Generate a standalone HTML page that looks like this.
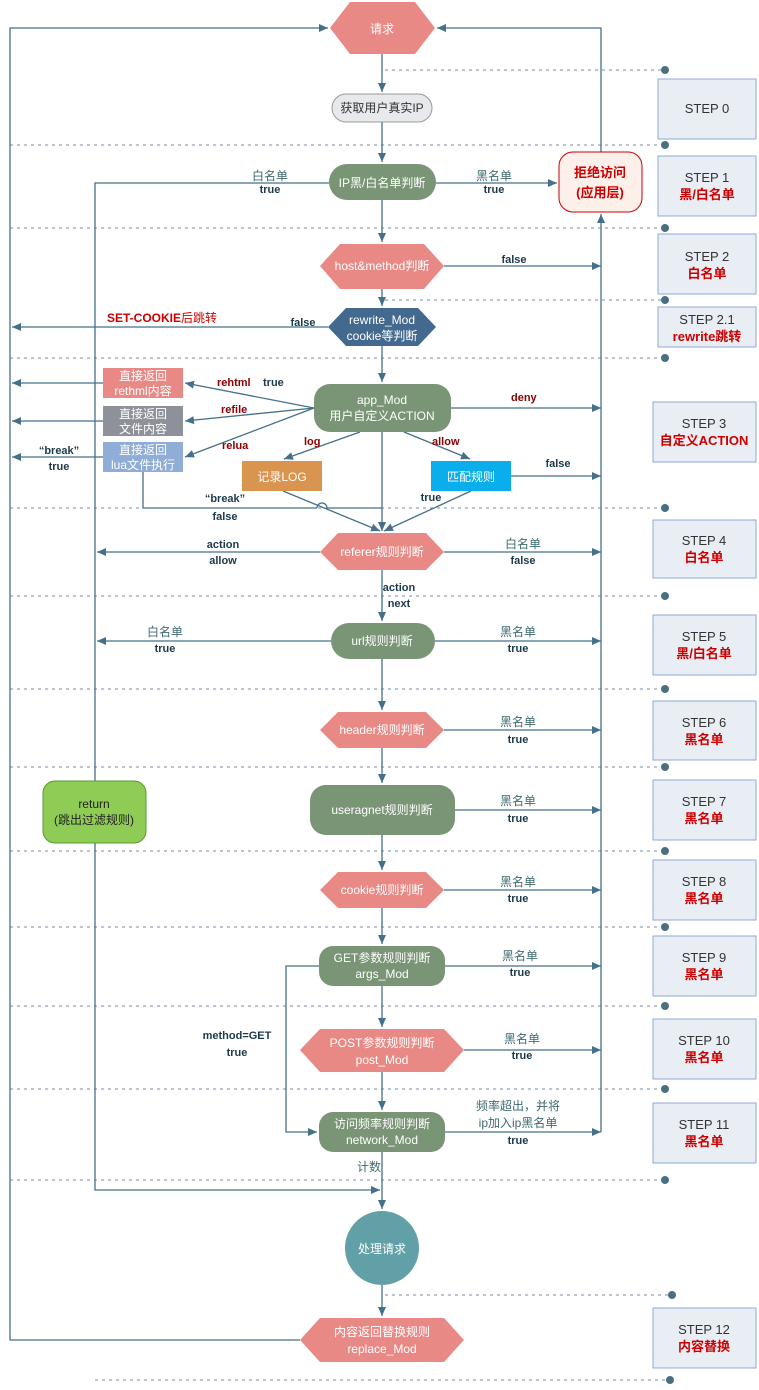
<!DOCTYPE html>
<html><head><meta charset="utf-8"><style>
html,body{margin:0;padding:0;background:#fff}
svg{display:block}
text{font-family:"Liberation Sans","Noto Sans CJK SC",sans-serif;font-size:12px}
.w{fill:#fff}
.lb{fill:#1d3a4a;font-weight:bold;font-size:11px}
.cn{fill:#3e6a70;font-size:12px}
.rd{fill:#8b0000;font-weight:bold;font-size:11px}
.st{fill:#333;font-size:13px}
.sr{fill:#c00;font-weight:bold;font-size:13px}
</style></head><body>
<svg width="759" height="1390" viewBox="0 0 759 1390" xmlns="http://www.w3.org/2000/svg">
<defs>
<marker id="a" markerWidth="10" markerHeight="10" refX="9" refY="5" orient="auto" markerUnits="userSpaceOnUse"><path d="M0,1 L9,5 L0,9 Z" fill="#45708a"/></marker>
</defs>
<g stroke="#7a8ea0" stroke-dasharray="3,4" stroke-width="1">
<line x1="385" y1="70" x2="665" y2="70"/>
<line x1="10" y1="145" x2="665" y2="145"/>
<line x1="10" y1="228" x2="665" y2="228"/>
<line x1="385" y1="300" x2="665" y2="300"/>
<line x1="10" y1="358" x2="665" y2="358"/>
<line x1="10" y1="508" x2="665" y2="508"/>
<line x1="10" y1="596" x2="665" y2="596"/>
<line x1="10" y1="689" x2="665" y2="689"/>
<line x1="10" y1="767" x2="665" y2="767"/>
<line x1="10" y1="851" x2="665" y2="851"/>
<line x1="10" y1="927" x2="665" y2="927"/>
<line x1="10" y1="1006" x2="665" y2="1006"/>
<line x1="10" y1="1089" x2="665" y2="1089"/>
<line x1="10" y1="1180" x2="665" y2="1180"/>
<line x1="385" y1="1295" x2="672" y2="1295"/>
<line x1="95" y1="1380" x2="670" y2="1380"/>
</g>
<g fill="#4a7080">
<circle cx="665" cy="70" r="4"/><circle cx="665" cy="145" r="4"/><circle cx="665" cy="228" r="4"/><circle cx="665" cy="300" r="4"/><circle cx="665" cy="358" r="4"/><circle cx="665" cy="508" r="4"/><circle cx="665" cy="596" r="4"/><circle cx="665" cy="689" r="4"/><circle cx="665" cy="767" r="4"/><circle cx="665" cy="851" r="4"/><circle cx="665" cy="927" r="4"/><circle cx="665" cy="1006" r="4"/><circle cx="665" cy="1089" r="4"/><circle cx="665" cy="1180" r="4"/><circle cx="672" cy="1295" r="4"/><circle cx="670" cy="1380" r="4"/>
</g>
<g stroke="#45708a" stroke-width="1.3" fill="none">
<polyline points="300,1340 10,1340 10,28 328,28" marker-end="url(#a)"/>
<polyline points="601,152 601,28 437,28" marker-end="url(#a)"/>
<line x1="601" y1="1132" x2="601" y2="214" marker-end="url(#a)"/>
<polyline points="329,183 95,183 95,1190 380,1190" marker-end="url(#a)"/>
<line x1="382" y1="54" x2="382" y2="92" marker-end="url(#a)"/>
<line x1="382" y1="122" x2="382" y2="162" marker-end="url(#a)"/>
<line x1="382" y1="200" x2="382" y2="242" marker-end="url(#a)"/>
<line x1="382" y1="289" x2="382" y2="306" marker-end="url(#a)"/>
<line x1="382" y1="346" x2="382" y2="382" marker-end="url(#a)"/>
<line x1="382" y1="432" x2="382" y2="531" marker-end="url(#a)"/>
<line x1="382" y1="570" x2="382" y2="621" marker-end="url(#a)"/>
<line x1="382" y1="659" x2="382" y2="710" marker-end="url(#a)"/>
<line x1="382" y1="748" x2="382" y2="783" marker-end="url(#a)"/>
<line x1="382" y1="835" x2="382" y2="870" marker-end="url(#a)"/>
<line x1="382" y1="908" x2="382" y2="944" marker-end="url(#a)"/>
<line x1="382" y1="986" x2="382" y2="1027" marker-end="url(#a)"/>
<line x1="382" y1="1072" x2="382" y2="1110" marker-end="url(#a)"/>
<line x1="382" y1="1152" x2="382" y2="1209" marker-end="url(#a)"/>
<line x1="382" y1="1285" x2="382" y2="1316" marker-end="url(#a)"/>
<line x1="436" y1="183" x2="557" y2="183" marker-end="url(#a)"/>
<line x1="444" y1="266" x2="601" y2="266" marker-end="url(#a)"/>
<line x1="328" y1="327" x2="12" y2="327" marker-end="url(#a)"/>
<line x1="103" y1="383" x2="12" y2="383" marker-end="url(#a)"/>
<line x1="103" y1="421" x2="12" y2="421" marker-end="url(#a)"/>
<line x1="103" y1="457" x2="12" y2="457" marker-end="url(#a)"/>
<line x1="314" y1="408" x2="185" y2="383" marker-end="url(#a)"/>
<line x1="314" y1="408" x2="185" y2="421" marker-end="url(#a)"/>
<line x1="314" y1="408" x2="185" y2="457" marker-end="url(#a)"/>
<line x1="451" y1="408" x2="601" y2="408" marker-end="url(#a)"/>
<line x1="360" y1="432" x2="284" y2="459" marker-end="url(#a)"/>
<line x1="404" y1="432" x2="470" y2="459" marker-end="url(#a)"/>
<line x1="511" y1="476" x2="601" y2="476" marker-end="url(#a)"/>
<polyline points="143,472 143,508 317,508"/>
<path d="M317,508 A5,5 0 0 1 327,508"/>
<line x1="327" y1="508" x2="382" y2="508"/>
<line x1="283" y1="491" x2="380" y2="531" marker-end="url(#a)"/>
<line x1="471" y1="491" x2="384" y2="531" marker-end="url(#a)"/>
<line x1="320" y1="552" x2="97" y2="552" marker-end="url(#a)"/>
<line x1="444" y1="552" x2="601" y2="552" marker-end="url(#a)"/>
<line x1="331" y1="641" x2="97" y2="641" marker-end="url(#a)"/>
<line x1="435" y1="641" x2="601" y2="641" marker-end="url(#a)"/>
<line x1="444" y1="730" x2="601" y2="730" marker-end="url(#a)"/>
<line x1="455" y1="810" x2="601" y2="810" marker-end="url(#a)"/>
<line x1="444" y1="890" x2="601" y2="890" marker-end="url(#a)"/>
<line x1="445" y1="966" x2="601" y2="966" marker-end="url(#a)"/>
<line x1="464" y1="1050" x2="601" y2="1050" marker-end="url(#a)"/>
<line x1="445" y1="1132" x2="601" y2="1132" marker-end="url(#a)"/>
<polyline points="319,966 286,966 286,1132 317,1132" marker-end="url(#a)"/>
</g>
<!-- nodes -->
<polygon points="330,28 350,2 415,2 435,28 415,54 350,54" fill="#e98985"/>
<text x="382" y="33" text-anchor="middle" class="w">请求</text>
<rect x="332" y="94" width="100" height="28" rx="14" fill="#e8e9ec" stroke="#999"/>
<text x="382" y="112" text-anchor="middle" fill="#333">获取用户真实IP</text>
<rect x="329" y="164" width="107" height="36" rx="18" fill="#7a9576"/>
<text x="382" y="187" text-anchor="middle" class="w">IP黑/白名单判断</text>
<rect x="559" y="152" width="83" height="60" rx="14" fill="#fdf0eb" stroke="#c00"/>
<text x="600" y="177" text-anchor="middle" class="sr">拒绝访问</text>
<text x="600" y="197" text-anchor="middle" class="sr">(应用层)</text>
<polygon points="320,266 340,244 424,244 444,266 424,289 340,289" fill="#e98985"/>
<text x="382" y="270" text-anchor="middle" class="w">host&amp;method判断</text>
<polygon points="328,327 346,308 418,308 436,327 418,346 346,346" fill="#44698f"/>
<text x="382" y="324" text-anchor="middle" class="w">rewrite_Mod</text>
<text x="382" y="340" text-anchor="middle" class="w">cookie等判断</text>
<rect x="314" y="384" width="137" height="48" rx="16" fill="#7a9576"/>
<text x="382" y="404" text-anchor="middle" class="w">app_Mod</text>
<text x="382" y="420" text-anchor="middle" class="w">用户自定义ACTION</text>
<rect x="103" y="368" width="80" height="30" fill="#e98985"/>
<text x="143" y="380" text-anchor="middle" class="w">直接返回</text>
<text x="143" y="395" text-anchor="middle" class="w">rethml内容</text>
<rect x="103" y="406" width="80" height="30" fill="#8e9199"/>
<text x="143" y="418" text-anchor="middle" class="w">直接返回</text>
<text x="143" y="433" text-anchor="middle" class="w">文件内容</text>
<rect x="103" y="442" width="80" height="30" fill="#8fadd6"/>
<text x="143" y="454" text-anchor="middle" class="w">直接返回</text>
<text x="143" y="469" text-anchor="middle" class="w">lua文件执行</text>
<rect x="242" y="461" width="80" height="30" fill="#d9944f"/>
<text x="282" y="481" text-anchor="middle" class="w">记录LOG</text>
<rect x="431" y="461" width="80" height="30" fill="#0aaeea"/>
<text x="471" y="481" text-anchor="middle" class="w">匹配规则</text>
<polygon points="320,552 338,533 426,533 444,552 426,570 338,570" fill="#e98985"/>
<text x="382" y="556" text-anchor="middle" class="w">referer规则判断</text>
<rect x="331" y="623" width="104" height="36" rx="18" fill="#7a9576"/>
<text x="382" y="645" text-anchor="middle" class="w">url规则判断</text>
<polygon points="320,730 338,712 426,712 444,730 426,748 338,748" fill="#e98985"/>
<text x="382" y="734" text-anchor="middle" class="w">header规则判断</text>
<rect x="310" y="785" width="145" height="50" rx="16" fill="#7a9576"/>
<text x="382" y="814" text-anchor="middle" class="w">useragnet规则判断</text>
<rect x="43" y="781" width="103" height="62" rx="12" fill="#8ecc55" stroke="#5a9a30"/>
<text x="94" y="808" text-anchor="middle" fill="#222">return</text>
<text x="94" y="824" text-anchor="middle" fill="#222">(跳出过滤规则)</text>
<polygon points="320,890 338,872 426,872 444,890 426,908 338,908" fill="#e98985"/>
<text x="382" y="894" text-anchor="middle" class="w">cookie规则判断</text>
<rect x="319" y="946" width="126" height="40" rx="14" fill="#7a9576"/>
<text x="382" y="962" text-anchor="middle" class="w">GET参数规则判断</text>
<text x="382" y="978" text-anchor="middle" class="w">args_Mod</text>
<polygon points="300,1050 320,1029 444,1029 464,1050 444,1072 320,1072" fill="#e98985"/>
<text x="382" y="1047" text-anchor="middle" class="w">POST参数规则判断</text>
<text x="382" y="1064" text-anchor="middle" class="w">post_Mod</text>
<rect x="319" y="1112" width="126" height="40" rx="14" fill="#7a9576"/>
<text x="382" y="1128" text-anchor="middle" class="w">访问频率规则判断</text>
<text x="382" y="1144" text-anchor="middle" class="w">network_Mod</text>
<circle cx="382" cy="1248" r="37" fill="#62a0a8"/>
<text x="382" y="1253" text-anchor="middle" class="w">处理请求</text>
<polygon points="300,1340 320,1318 444,1318 464,1340 444,1362 320,1362" fill="#e98985"/>
<text x="382" y="1336" text-anchor="middle" class="w">内容返回替换规则</text>
<text x="382" y="1353" text-anchor="middle" class="w">replace_Mod</text>
<!-- labels -->
<text x="270" y="180" text-anchor="middle" class="cn">白名单</text>
<text x="270" y="193" text-anchor="middle" class="lb">true</text>
<text x="494" y="180" text-anchor="middle" class="cn">黑名单</text>
<text x="494" y="193" text-anchor="middle" class="lb">true</text>
<text x="514" y="263" text-anchor="middle" class="lb">false</text>
<text x="107" y="322" fill="#c00" font-weight="bold" font-size="12">SET-COOKIE<tspan font-weight="normal">后跳转</tspan></text>
<text x="303" y="326" text-anchor="middle" class="lb">false</text>
<text x="217" y="386" class="rd">rehtml</text><text x="263" y="386" class="lb">true</text>
<text x="221" y="413" class="rd">refile</text>
<text x="222" y="449" class="rd">relua</text>
<text x="304" y="445" class="rd">log</text>
<text x="432" y="445" class="rd">allow</text>
<text x="511" y="401" class="rd">deny</text>
<text x="558" y="467" text-anchor="middle" class="lb">false</text>
<text x="431" y="501" text-anchor="middle" class="lb">true</text>
<text x="59" y="454" text-anchor="middle" class="lb">“break”</text>
<text x="59" y="470" text-anchor="middle" class="lb">true</text>
<text x="225" y="502" text-anchor="middle" class="lb">“break”</text>
<text x="225" y="520" text-anchor="middle" class="lb">false</text>
<text x="223" y="548" text-anchor="middle" class="lb">action</text>
<text x="223" y="564" text-anchor="middle" class="lb">allow</text>
<text x="523" y="548" text-anchor="middle" class="cn">白名单</text>
<text x="523" y="564" text-anchor="middle" class="lb">false</text>
<text x="399" y="591" text-anchor="middle" class="lb">action</text>
<text x="399" y="607" text-anchor="middle" class="lb">next</text>
<text x="165" y="636" text-anchor="middle" class="cn">白名单</text>
<text x="165" y="652" text-anchor="middle" class="lb">true</text>
<g>
<text x="518" y="636" text-anchor="middle" class="cn">黑名单</text><text x="518" y="652" text-anchor="middle" class="lb">true</text>
<text x="518" y="726" text-anchor="middle" class="cn">黑名单</text><text x="518" y="743" text-anchor="middle" class="lb">true</text>
<text x="518" y="805" text-anchor="middle" class="cn">黑名单</text><text x="518" y="822" text-anchor="middle" class="lb">true</text>
<text x="518" y="886" text-anchor="middle" class="cn">黑名单</text><text x="518" y="902" text-anchor="middle" class="lb">true</text>
<text x="520" y="960" text-anchor="middle" class="cn">黑名单</text><text x="520" y="976" text-anchor="middle" class="lb">true</text>
<text x="522" y="1043" text-anchor="middle" class="cn">黑名单</text><text x="522" y="1059" text-anchor="middle" class="lb">true</text>
</g>
<text x="518" y="1110" text-anchor="middle" class="cn">频率超出，并将</text>
<text x="518" y="1127" text-anchor="middle" class="cn">ip加入ip黑名单</text>
<text x="518" y="1144" text-anchor="middle" class="lb">true</text>
<text x="237" y="1039" text-anchor="middle" class="lb">method=GET</text>
<text x="237" y="1056" text-anchor="middle" class="lb">true</text>
<text x="369" y="1171" text-anchor="middle" class="cn">计数</text>
<!-- steps -->
<g fill="#e9edf4" stroke="#8ea9d9">
<rect x="658" y="79" width="98" height="60"/><rect x="658" y="156" width="98" height="60"/><rect x="658" y="234" width="98" height="60"/><rect x="658" y="307" width="98" height="40"/>
<rect x="653" y="402" width="103" height="60"/><rect x="653" y="520" width="103" height="58"/><rect x="653" y="615" width="103" height="60"/><rect x="653" y="701" width="103" height="59"/>
<rect x="653" y="780" width="103" height="60"/><rect x="653" y="860" width="103" height="60"/><rect x="653" y="936" width="103" height="60"/><rect x="653" y="1019" width="103" height="60"/>
<rect x="653" y="1103" width="103" height="60"/><rect x="653" y="1308" width="103" height="60"/>
</g>
<g text-anchor="middle">
<text x="707" y="113" class="st">STEP  0</text>
<text x="707" y="182" class="st">STEP  1</text><text x="707" y="199" class="sr">黑/白名单</text>
<text x="707" y="261" class="st">STEP  2</text><text x="707" y="278" class="sr">白名单</text>
<text x="707" y="324" class="st">STEP  2.1</text><text x="707" y="341" class="sr">rewrite跳转</text>
<text x="704" y="428" class="st">STEP  3</text><text x="704" y="445" class="sr" font-weight="normal">自定义ACTION</text>
<text x="704" y="545" class="st">STEP  4</text><text x="704" y="562" class="sr">白名单</text>
<text x="704" y="641" class="st">STEP  5</text><text x="704" y="658" class="sr">黑/白名单</text>
<text x="704" y="727" class="st">STEP  6</text><text x="704" y="744" class="sr">黑名单</text>
<text x="704" y="806" class="st">STEP  7</text><text x="704" y="823" class="sr">黑名单</text>
<text x="704" y="886" class="st">STEP  8</text><text x="704" y="903" class="sr">黑名单</text>
<text x="704" y="962" class="st">STEP  9</text><text x="704" y="979" class="sr">黑名单</text>
<text x="704" y="1045" class="st">STEP  10</text><text x="704" y="1062" class="sr">黑名单</text>
<text x="704" y="1129" class="st">STEP  11</text><text x="704" y="1146" class="sr">黑名单</text>
<text x="704" y="1334" class="st">STEP  12</text><text x="704" y="1351" class="sr">内容替换</text>
</g>
</svg>
</body></html>
